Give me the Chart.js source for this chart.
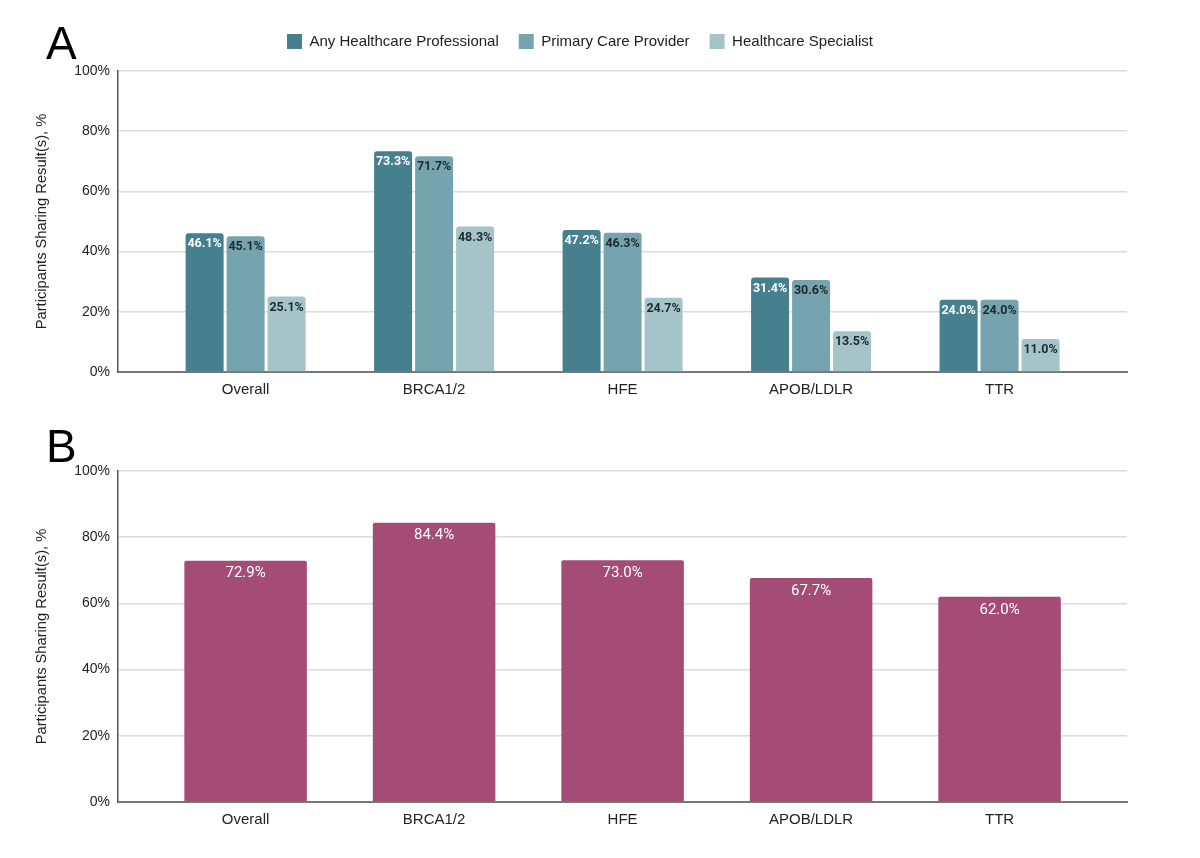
<!DOCTYPE html>
<html>
<head>
<meta charset="utf-8">
<script src="https://cdn.jsdelivr.net/npm/chart.js@4.4.0/dist/chart.umd.min.js"></script>
<style>
  body { margin: 0; background: #fff; width: 1200px; height: 858px; position: relative; overflow: hidden; }
  .panel { position: absolute; left: 0; width: 1200px; }
  #wrapA { top: 0; height: 412px; }
  #wrapB { top: 415px; height: 443px; }
  .letter { position: absolute; font-family: "Liberation Sans", Arial, sans-serif; font-size: 46px; color: #000; line-height: 1; z-index: 2; }
</style>
</head>
<body>
<div class="letter" style="left:46px; top:20px;">A</div>
<div class="letter" style="left:46px; top:423px;">B</div>
<div class="panel" id="wrapA"><canvas id="chartA"></canvas></div>
<div class="panel" id="wrapB"><canvas id="chartB"></canvas></div>
<script>
// categories and values
const categories = ['Overall', 'BRCA1/2', 'HFE', 'APOB/LDLR', 'TTR'];
const anyProfessional = [46.1, 73.3, 47.2, 31.4, 24.0];
const primaryCare = [45.1, 71.7, 46.3, 30.6, 24.0];
const specialist = [25.1, 48.3, 24.7, 13.5, 11.0];
const anyShared = [72.9, 84.4, 73.0, 67.7, 62.0];
const yTicks = [0, 20, 40, 60, 80, 100];

const FONT = '"Liberation Sans", Arial, Helvetica, sans-serif';
const yTitle = 'Participants Sharing Result(s), %';

function toPoints(arr) {
  return arr.map(function(v, i) { return {x: i, y: v}; });
}

// draws the value text just under the top of every bar
const barLabels = {
  id: 'barLabels',
  afterDatasetsDraw: function(chart, args, opts) {
    let ctx = chart.ctx;
    chart.data.datasets.forEach(function(ds, di) {
      let meta = chart.getDatasetMeta(di);
      meta.data.forEach(function(bar, i) {
        ctx.save();
        ctx.font = opts.font;
        ctx.fillStyle = ds.labelColor;
        ctx.textAlign = 'center';
        ctx.textBaseline = 'middle';
        ctx.fillText(ds.data[i].y.toFixed(1) + '%', bar.x, bar.y + opts.offset);
        ctx.restore();
      });
    });
  }
};

// extra room under the legend (only when it is shown)
const legendGap = {
  id: 'legendGap',
  beforeInit: function(chart) {
    if (!chart.legend || !chart.options.plugins.legend.display) return;
    let fit = chart.legend.fit;
    chart.legend.fit = function() {
      fit.call(this);
      this.height += 12;
    };
  }
};

function baseConfig(datasets, showLegend, padTop, padBottom) {
  return {
    type: 'bar',
    data: {datasets: datasets},
    plugins: [barLabels, legendGap],
    options: {
      responsive: true,
      maintainAspectRatio: false,
      animation: false,
      layout: {padding: {left: 33, right: 73, top: padTop, bottom: padBottom}},
      plugins: {
        tooltip: {enabled: false},
        legend: {
          display: showLegend,
          position: 'top',
          labels: {
            font: {family: FONT, size: 15},
            color: '#222',
            boxWidth: 15,
            boxHeight: 15,
            padding: 20
          }
        },
        barLabels: {font: 'bold 12.5px Roboto, ' + FONT, offset: 11}
      },
      scales: {
        x: {
          type: 'linear',
          offset: false,
          min: -0.677,
          max: 4.676,
          grid: {display: false},
          border: {display: true, color: '#777', width: 2},
          ticks: {
            stepSize: 1,
            includeBounds: false,
            autoSkip: false,
            maxRotation: 0,
            padding: 1,
            color: '#222',
            font: {family: FONT, size: 15},
            callback: function(value) {
              return Number.isInteger(value) && categories[value] !== undefined ? categories[value] : '';
            }
          }
        },
        y: {
          min: 0,
          max: 100,
          afterFit: function(scale) { scale.width = 85; },
          afterBuildTicks: function(scale) {
            scale.ticks = yTicks.map(function(v) { return {value: v}; });
          },
          grid: {color: '#dcdcdc', lineWidth: 1.5, drawTicks: false},
          border: {display: true, color: '#555', width: 1.5},
          ticks: {
            padding: 8,
            color: '#222',
            font: {family: FONT, size: 14},
            callback: function(value) { return value + '%'; }
          },
          title: {
            display: true,
            text: yTitle,
            color: '#222',
            font: {family: FONT, size: 14.7},
            padding: {top: 0, bottom: 4}
          }
        }
      }
    }
  };
}

let configA = baseConfig([
  {label: 'Any Healthcare Professional', data: toPoints(anyProfessional), backgroundColor: '#467f8d', labelColor: '#ffffff'},
  {label: 'Primary Care Provider', data: toPoints(primaryCare), backgroundColor: '#76a4ae', labelColor: '#1c2a2e'},
  {label: 'Healthcare Specialist', data: toPoints(specialist), backgroundColor: '#a4c4c9', labelColor: '#1c2a2e'}
], true, 14, 12);
configA.data.datasets.forEach(function(ds) {
  ds.categoryPercentage = 0.6525;
  ds.barPercentage = 0.927;
  ds.borderRadius = {topLeft: 3, topRight: 3};
  ds.borderSkipped = 'start';
});
let chartA = new Chart(document.getElementById('chartA'), configA);

let configB = baseConfig([
  {label: 'Sharing', data: toPoints(anyShared), backgroundColor: '#a54c76', labelColor: '#ffffff',
   categoryPercentage: 0.65, barPercentage: 1.0, borderRadius: {topLeft: 2, topRight: 2}, borderSkipped: 'start'}
], false, 56, 28);
configB.options.plugins.barLabels = {font: '15px Roboto, ' + FONT, offset: 13};
let chartB = new Chart(document.getElementById('chartB'), configB);
</script>
</body>
</html>
